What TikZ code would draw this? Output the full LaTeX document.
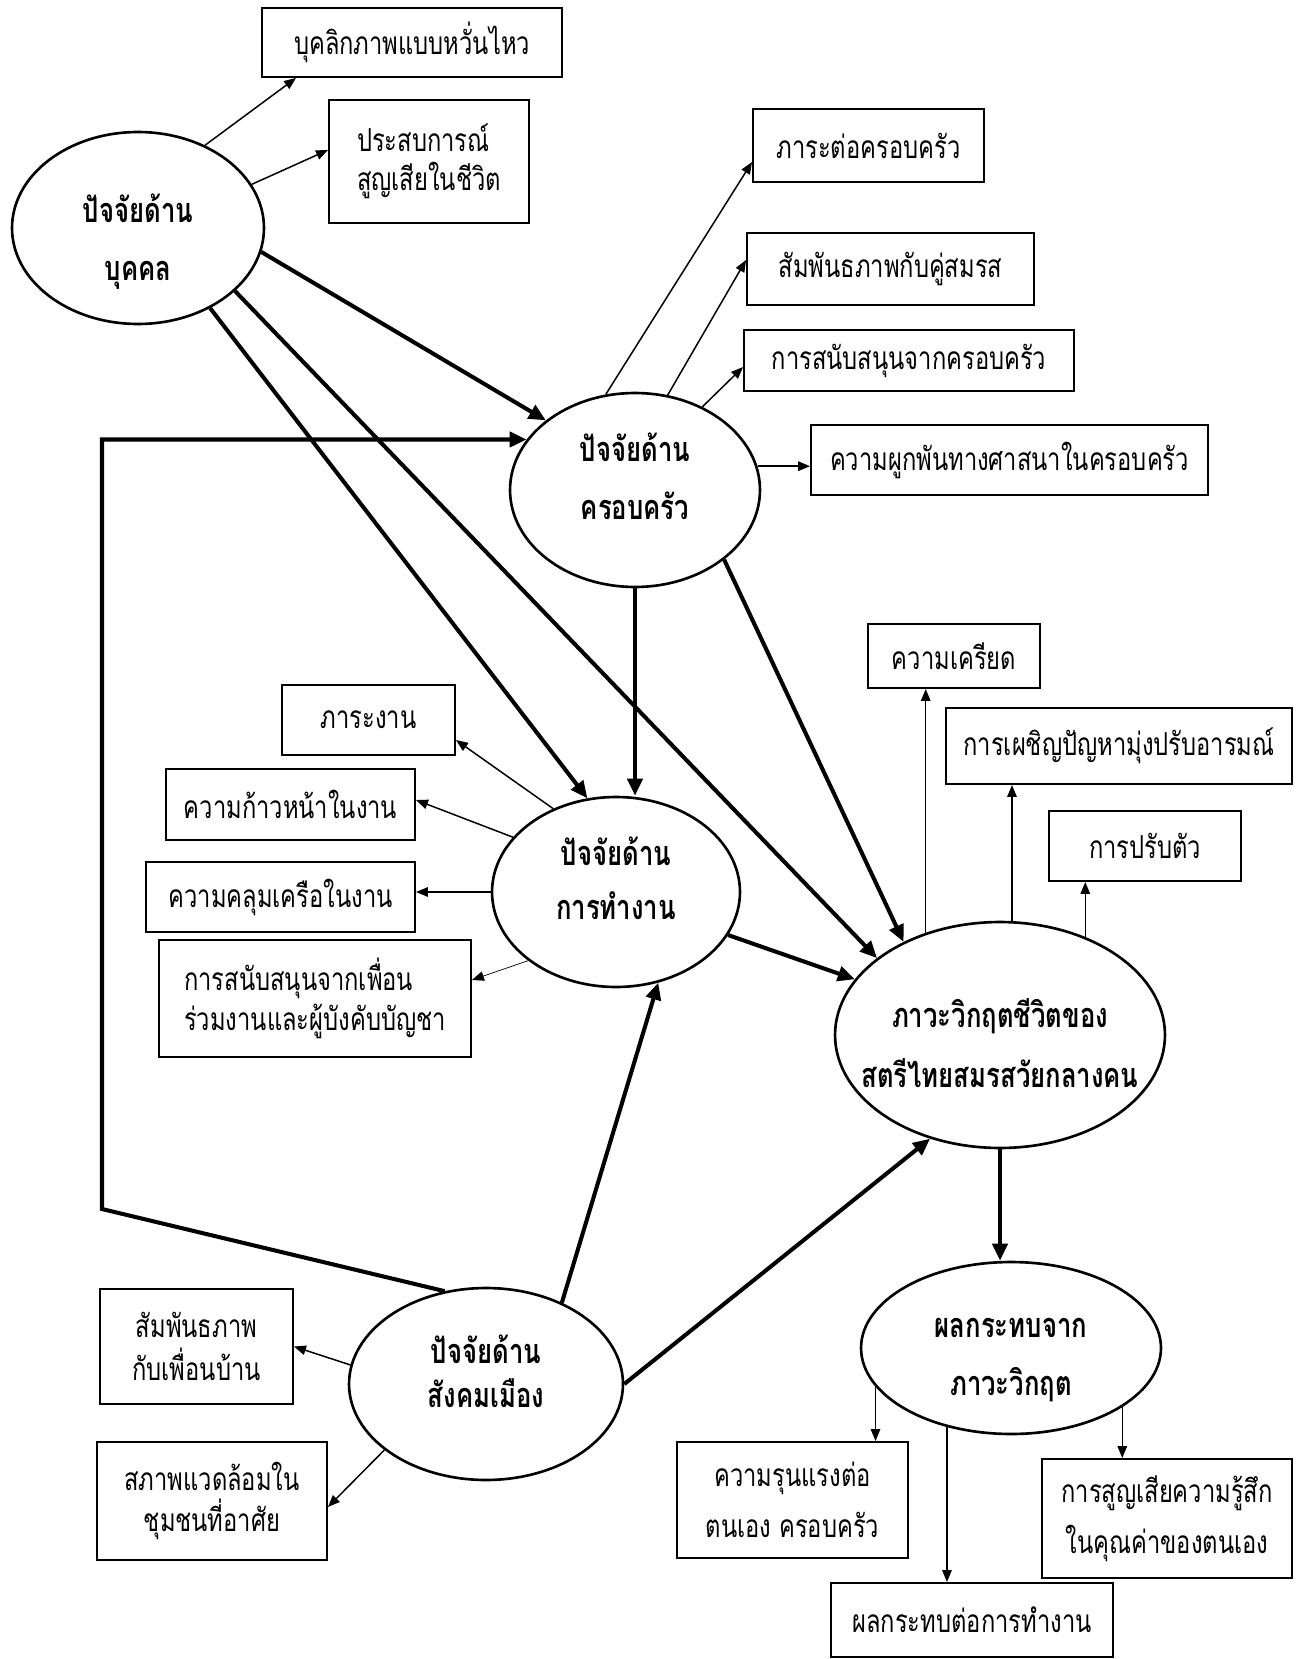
\documentclass[tikz,border=0pt]{standalone}
\usepackage{fontspec}
\newfontfamily\thai[Script=Thai,FakeStretch=0.75]{Loma}
\usetikzlibrary{shapes.geometric, arrows.meta, positioning, calc}

\tikzset{
  factor/.style 2 args={ellipse, draw, line width=1.5pt, inner sep=0pt,
    minimum width=#1, minimum height=#2},
  title/.style={align=center, inner sep=0pt,
    font=\thai\bfseries\fontsize{19.5}{#1}\selectfont},
  item/.style n args={3}{rectangle, draw, line width=1.1pt, inner sep=0pt,
    minimum width=#1, minimum height=#2, align=center,
    font=\thai\fontsize{18}{#3}\selectfont},
  link/.style={-{Triangle[length=0.24cm,width=0.19cm]}, line width=0.85pt},
  flow/.style={-{Triangle[length=0.34cm,width=0.3cm]}, line width=2.3pt}
}

\begin{document}
\begin{tikzpicture}[x=0.02cm, y=-0.02cm]
\useasboundingbox (0,0) rectangle (1302,1659);

% factors
\node[factor={5.04cm}{3.84cm}] (pers) at (138,228) {};
\node[factor={5cm}{3.88cm}] (fam) at (635,490) {};
\node[factor={4.96cm}{3.8cm}] (work) at (616,892) {};
\node[factor={6.6cm}{4.52cm}] (crisis) at (1000,1035) {};
\node[factor={5.48cm}{3.84cm}] (soc) at (486,1384) {};
\node[factor={6cm}{3.44cm}] (imp) at (1011,1348) {};

\node[title=33pt] (pers text) at (138,242) {ปัจจัยด้าน\\บุคคล};
\node[title=33pt] (fam text) at (635,476) {ปัจจัยด้าน\\ครอบครัว};
\node[title=31pt] (work text) at (616,878) {ปัจจัยด้าน\\การทำงาน};
\node[title=34pt] (crisis text) at (1000,1043) {ภาวะวิกฤตชีวิตของ\\สตรีไทยสมรสวัยกลางคน};
\node[title=25pt] (soc text) at (486,1371) {ปัจจัยด้าน\\สังคมเมือง};
\node[title=33pt] (imp text) at (1011,1360) {ผลกระทบจาก\\ภาวะวิกฤต};

% items
\node[item={6cm}{1.38cm}{22pt}] (pers1) at (412,42.5) {บุคลิกภาพแบบหวั่นไหว};
\node[item={4cm}{2.46cm}{22pt}, align=left] (pers2) at (429,161.5) {ประสบการณ์\\สูญเสียในชีวิต};

\node[item={4.62cm}{1.46cm}{22pt}] (fam1) at (868.5,145.5) {ภาระต่อครอบครัว};
\node[item={5.74cm}{1.44cm}{22pt}] (fam2) at (890.5,269) {สัมพันธภาพกับคู่สมรส};
\node[item={6.6cm}{1.22cm}{22pt}] (fam3) at (909,360.5) {การสนับสนุนจากครอบครัว};
\node[item={7.94cm}{1.4cm}{22pt}] (fam4) at (1009.5,460) {ความผูกพันทางศาสนาในครอบครัว};

\node[item={3.46cm}{1.4cm}{22pt}] (work1) at (368.5,720) {ภาระงาน};
\node[item={4.98cm}{1.42cm}{22pt}] (work2) at (290.5,804.5) {ความก้าวหน้าในงาน};
\node[item={5.38cm}{1.4cm}{22pt}] (work3) at (280.5,897) {ความคลุมเครือในงาน};
\node[item={6.24cm}{2.34cm}{23pt}, align=left] (work4) at (315,998.5) {การสนับสนุนจากเพื่อน\\ร่วมงานและผู้บังคับบัญชา};

\node[item={3.44cm}{1.28cm}{22pt}] (cri1) at (954,656) {ความเครียด};
\node[item={6.92cm}{1.52cm}{22pt}] (cri2) at (1119,746) {การเผชิญปัญหามุ่งปรับอารมณ์};
\node[item={3.84cm}{1.4cm}{22pt}] (cri3) at (1145,846) {การปรับตัว};

\node[item={3.86cm}{2.3cm}{24pt}] (soc1) at (196.5,1346.5) {สัมพันธภาพ\\กับเพื่อนบ้าน};
\node[item={4.6cm}{2.36cm}{23pt}] (soc2) at (212,1501) {สภาพแวดล้อมใน\\ชุมชนที่อาศัย};

\node[item={4.62cm}{2.32cm}{29pt}] (imp1) at (792.5,1500) {ความรุนแรงต่อ\\ตนเอง ครอบครัว};
\node[item={5cm}{2.38cm}{29pt}] (imp2) at (1167,1518.5) {การสูญเสียความรู้สึก\\ในคุณค่าของตนเอง};
\node[item={5.64cm}{1.48cm}{22pt}] (imp3) at (972,1620) {ผลกระทบต่อการทำงาน};

% thin arrows
\draw[link] (pers.51) -- ([xshift=0.7cm]pers1.south west);
\draw[link] (pers.21) -- ([yshift=0.23cm]pers2.west);
\draw[link] (fam.107) -- ([yshift=-0.33cm]fam1.west);
\draw[link] (fam.71) -- ([yshift=0.18cm]fam2.west);
\draw[link] (fam.51) -- ([yshift=-0.13cm]fam3.west);
\draw[link] (fam.11) -- (fam.11 -| fam4.west);
\draw[link] (work.127) -- ([yshift=-0.4cm]work1.east);
\draw[link] (work.152) -- ([yshift=0.09cm]work2.east);
\draw[link] (work.west) -- (work.west -| work3.east);
\draw[link, line width=0.4pt] (work.218) -- ([yshift=0.37cm]work4.east);
\draw[link] (crisis.126) -- (crisis.126 |- cri1.south);
\draw[link] (crisis.84) -- (crisis.84 |- cri2.south);
\draw[link] (crisis.49) -- (crisis.49 |- cri3.south);
\draw[link] (soc.172) -- (soc1.east);
\draw[link] (soc.213) -- ([yshift=-0.12cm]soc2.east);
\draw[link] (imp.196) -- (imp.196 |- imp1.north);
\draw[link] (imp.231) -- (imp.231 |- imp3.north);
\draw[link] (imp.-28) -- (imp.-28 |- imp2.north);

% thick arrows
\coordinate (bend) at (102,1209);
\draw[flow] (pers.-11) -- (fam.142);
\draw[flow] (pers.-48) -- (work.107);
\draw[flow] (pers.-33) -- (crisis.148);
\draw[flow] (fam.south) -- (fam.south |- work.north);
\draw[flow] (fam.-38) -- (crisis.136);
\draw[flow] (work.-21) -- (crisis.159);
\draw[flow] (soc.47) -- (work.-65);
\draw[flow] (soc.east) -- (crisis.-124);
\draw[flow] (crisis.south) -- (crisis.south |- imp.north);
\draw[flow] (soc.114) -- (bend) -- (bend |- fam.155) -- (fam.155);

\end{tikzpicture}
\end{document}
